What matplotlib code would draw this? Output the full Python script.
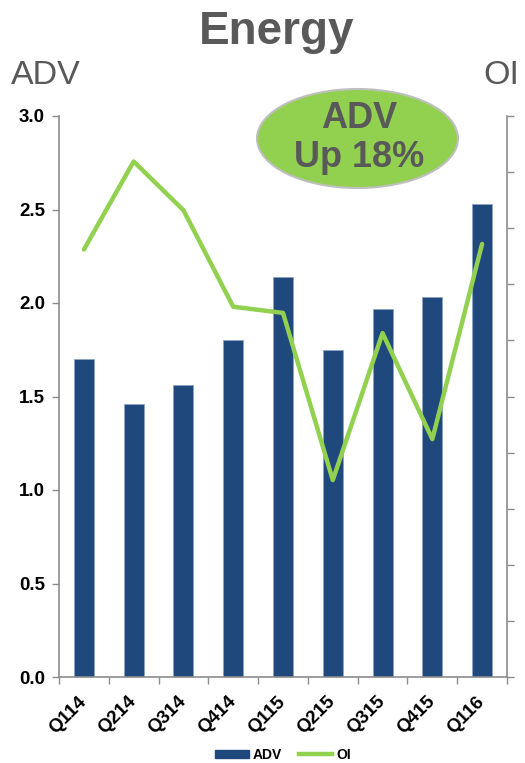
import matplotlib
matplotlib.use("Agg")
import matplotlib.pyplot as plt
from matplotlib.patches import Ellipse, Patch
from matplotlib.lines import Line2D
from matplotlib.transforms import ScaledTranslation
import numpy as np

plt.rcParams['font.family'] = ['Liberation Sans', 'DejaVu Sans']

# Quarterly energy volumes
quarters = ["Q114", "Q214", "Q314", "Q414", "Q115", "Q215", "Q315", "Q415", "Q116"]
adv = [1.70, 1.46, 1.56, 1.80, 2.14, 1.75, 1.97, 2.03, 2.53]
oi = [7.62, 9.19, 8.32, 6.60, 6.49, 3.51, 6.13, 4.24, 7.72]
adv_ticks = [0.0, 0.5, 1.0, 1.5, 2.0, 2.5, 3.0]
adv_tick_labels = ["0.0", "0.5", "1.0", "1.5", "2.0", "2.5", "3.0"]

BAR = "#1F497D"
GREEN = "#92D050"
GRAY_TXT = "#595959"
SPINE = "#8C8C8C"

fig = plt.figure(figsize=(5.25, 7.63), dpi=100)
ax = fig.add_axes([59 / 525, 1 - 677 / 763, (507 - 59) / 525, (677 - 116) / 763])

x = np.arange(len(quarters))
ax.bar(x, adv, width=0.4, color=BAR, edgecolor="#8EA4C2", linewidth=0.6, zorder=2)
ax.set_xlim(-0.5, len(quarters) - 0.5)
ax.set_ylim(0, 3.0)
ax.set_yticks(adv_ticks)
ax.set_yticklabels(adv_tick_labels, fontsize=13.5, fontweight="bold")
ax.set_xticks(x)
ax.set_xticklabels(quarters, rotation=45, ha="right", va="top",
                   fontsize=13.5, fontweight="bold")
ax.tick_params(axis="x", which="major", length=0, pad=5)
shift = ScaledTranslation(6 / 100, -9 / 100, fig.dpi_scale_trans)
for lbl in ax.get_xticklabels():
    lbl.set_transform(lbl.get_transform() + shift)
ax.set_xticks(np.arange(-0.5, len(quarters), 1.0), minor=True)
ax.tick_params(axis="x", which="minor", length=5, color=SPINE, width=1)
ax.tick_params(axis="y", length=5, color=SPINE, width=1, pad=5)

for s in ["top", "right"]:
    ax.spines[s].set_visible(False)
for s in ["left", "bottom"]:
    ax.spines[s].set_color(SPINE)
    ax.spines[s].set_linewidth(1.2)

ax2 = ax.twinx()
ax2.plot(x, oi, color=GREEN, linewidth=3.2, solid_capstyle="round", zorder=3)
ax2.set_ylim(0, 10)
ax2.set_yticks(np.arange(0, 11, 1))
ax2.tick_params(axis="y", length=5, color=SPINE, width=1, labelright=False)
for s in ["top", "left", "bottom"]:
    ax2.spines[s].set_visible(False)
ax2.spines["right"].set_color(SPINE)
ax2.spines["right"].set_linewidth(1.2)

# Headline and axis captions
fig.text(277 / 525, 1 - 32 / 763, "Energy", ha="center", va="center",
         fontsize=33, fontweight="bold", color=GRAY_TXT)
fig.text(11 / 525, 1 - 76 / 763, "ADV", ha="left", va="center",
         fontsize=24.5, color=GRAY_TXT)
fig.text(519 / 525, 1 - 76 / 763, "OI", ha="right", va="center",
         fontsize=24.5, color=GRAY_TXT)

# Callout bubble
ell = Ellipse((357.5 / 525, 1 - 138.5 / 763), 201 / 525, 99 / 763,
              transform=fig.transFigure, facecolor=GREEN, edgecolor="#BFBFBF",
              linewidth=1.5, zorder=5)
fig.patches.append(ell)
fig.text(359 / 525, 1 - 138 / 763, "ADV\nUp 18%", ha="center", va="center",
         fontsize=26, fontweight="bold", color=GRAY_TXT, linespacing=1.12,
         zorder=6)

handles = [Patch(facecolor=BAR, edgecolor=BAR),
           Line2D([0], [0], color=GREEN, linewidth=3.2)]
fig.legend(handles, ["ADV", "OI"], loc="center",
           bbox_to_anchor=(283 / 525, 1 - 755 / 763), ncol=2, frameon=False,
           prop={"weight": "bold", "size": 10}, handlelength=2.4,
           handleheight=0.55, columnspacing=1.2, handletextpad=0.3)

fig.savefig("out.png", dpi=100)
